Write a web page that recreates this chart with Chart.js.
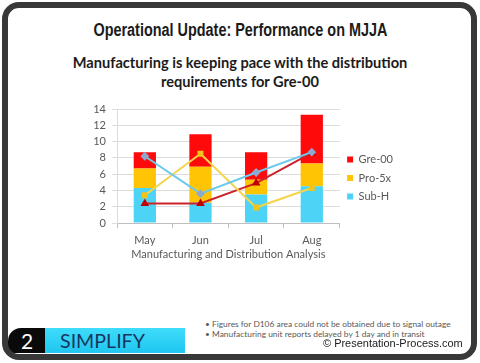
<!DOCTYPE html>
<html><head><meta charset="utf-8">
<script src="https://cdn.jsdelivr.net/npm/chart.js@4.4.1/dist/chart.umd.min.js"></script>
<style>
html,body{margin:0;padding:0;width:480px;height:363px;overflow:hidden;background:#fff;}
.abs{position:absolute;}
#frame{left:2px;top:2px;width:475px;height:358px;box-sizing:border-box;border:6px solid #383838;border-radius:17px;z-index:5;}
.center{left:0;width:480px;text-align:center;white-space:nowrap;}
#title{top:20px;line-height:20px;font-family:"Liberation Sans";font-weight:bold;font-size:17.5px;color:#1b1b1b;}
#titleS{display:inline-block;transform-origin:center center;}
#sub{top:53px;line-height:19px;font-family:Lato;font-weight:bold;font-size:14px;color:#1b1b1b;}
#chartBox{left:80px;top:95px;width:400px;height:166px;}
#black{left:8px;top:328px;width:38px;height:25px;background:#0a0a0a;border-top-left-radius:13px;color:#fff;font-family:Lato;font-size:21px;line-height:25px;text-align:center;box-sizing:border-box;}
#cyan{left:45px;top:328px;width:140px;height:25px;background:linear-gradient(#3fdcfb,#1fc6ef);}
#simp{left:60px;top:328px;line-height:25px;font-family:Lato;font-size:21px;color:#17365d;white-space:nowrap;}
#notes{left:205px;top:319px;line-height:10px;font-family:Lato;font-size:8px;color:#595959;white-space:nowrap;}
#copy{left:323px;top:336px;line-height:14px;font-family:"Liberation Sans";font-size:11.5px;color:#1a1a1a;white-space:nowrap;}
</style></head>
<body>
<div id="black" class="abs">2</div>
<div id="cyan" class="abs"></div>
<div id="simp" class="abs"><span id="simpS">SIMPLIFY</span></div>
<div id="title" class="abs center"><span id="titleS">Operational Update: Performance on MJJA</span></div>
<div id="sub" class="abs center"><div><span id="sub1">Manufacturing is keeping pace with the distribution</span></div><div>requirements for Gre-00</div></div>
<div id="chartBox" class="abs"><canvas id="c"></canvas></div>
<div id="notes" class="abs"><div><span id="n1">• Figures for D106 area could not be obtained due to signal outage</span></div><div>• Manufacturing unit reports delayed by 1 day and in transit</div></div>
<div id="copy" class="abs"><span id="copyS">© Presentation-Process.com</span></div>
<div id="frame" class="abs"></div>
<script>
// ---- data ----
const months = ['May', 'Jun', 'Jul', 'Aug'];
const seriesNames = ['Sub-H', 'Pro-5x', 'Gre-00'];
const subH = [4.3, 2.5, 3.5, 4.5];
const pro5x = [2.4, 4.4, 1.8, 2.8];
const gre00 = [2.0, 4.0, 3.4, 6.0];
const lineBlue = [8.2, 3.6, 6.2, 8.7];
const lineYellow = [3.4, 8.5, 1.9, 4.3];
const lineRed = [2.4, 2.4, 4.9, 8.6];
const yMin = 0, yMax = 14, yStep = 2;
const xTitle = 'Manufacturing and Distribution Analysis';

function fit(id, target, others) {
  const el = document.getElementById(id);
  const w = el.getBoundingClientRect().width;
  const fs = parseFloat(getComputedStyle(el).fontSize);
  const nfs = fs * target / w;
  (others || [el.parentElement]).forEach(e => e.style.fontSize = nfs + 'px');
  el.style.fontSize = nfs + 'px';
}
function fitX(id, target) {
  const el = document.getElementById(id);
  const w = el.getBoundingClientRect().width;
  el.style.transform = 'scaleX(' + (target / w) + ')';
}
fitX('titleS', 294);
fit('sub1', 335, [document.getElementById('sub')]);
fit('n1', 246, [document.getElementById('notes')]);
fit('copyS', 140);
fit('simpS', 85);

Chart.defaults.font.family = 'Lato';
Chart.defaults.font.size = 11;
Chart.defaults.color = '#595959';

const barColors = ['#4dd3f5', '#ffc505', '#ff0a0a'];
const barData = [subH, pro5x, gre00];

const datasets = [];
barData.forEach((d, i) => datasets.push({
  type: 'bar', label: seriesNames[i], data: d, backgroundColor: barColors[i],
  borderWidth: 0, order: 2, stack: 'bars', barPercentage: 0.5, categoryPercentage: 0.8
}));
datasets.push({type:'line', label:'Sub-H line', data: lineBlue, borderColor:'#6cc9ec', backgroundColor:'#8ea9cf',
  pointBackgroundColor:'#8ea9cf', pointBorderColor:'#8ea9cf', pointStyle:'rectRot', pointRadius:3, borderWidth:2, order:1, stack:'l1', fill:false});
datasets.push({type:'line', label:'Pro-5x line', data: lineYellow, borderColor:'#f3d44c', backgroundColor:'#f0c419',
  pointBackgroundColor:'#f0c419', pointBorderColor:'#f0c419', pointStyle:'rect', pointRadius:2.8, borderWidth:2, order:1, stack:'l2', fill:false});
datasets.push({type:'line', label:'Gre-00 line', data: lineRed, borderColor:'#cc2229', backgroundColor:'#c00000',
  pointBackgroundColor:'#c00000', pointBorderColor:'#c00000', pointStyle:'triangle', pointRadius:3, borderWidth:2, order:1, stack:'l3', fill:false});

new Chart(document.getElementById('c'), {
  type: 'bar',
  data: { labels: months, datasets },
  options: {
    responsive: true, maintainAspectRatio: false, animation: false,
    layout: { padding: { top: 14, left: 0, right: 77, bottom: 14 } },
    plugins: {
      tooltip: { enabled: false },
      legend: {
        position: 'right', reverse: true,
        labels: { boxWidth: 6, boxHeight: 6, padding: 7.5, color: '#595959', font: { size: 11 },
          filter: (item) => item.datasetIndex < 3 }
      }
    },
    scales: {
      x: {
        stacked: true,
        grid: { drawOnChartArea: false, drawTicks: true, tickLength: 5, offset: true, color: '#bfbfbf' },
        border: { color: '#bfbfbf' },
        ticks: { padding: 6, color: '#595959' },
        title: { display: true, text: xTitle, color: '#595959', padding: { top: 0, bottom: -14 }, font: { size: 11 } },
        afterFit: s => { s.height = 24; }
      },
      y: {
        stacked: true, min: yMin, max: yMax,
        ticks: { stepSize: yStep, padding: 6, color: '#595959' },
        grid: { color: '#dcdcdc', tickLength: 5 },
        border: { color: '#dcdcdc' },
        afterFit: s => { s.width = 37; }
      }
    }
  }
});
</script>
</body></html>
